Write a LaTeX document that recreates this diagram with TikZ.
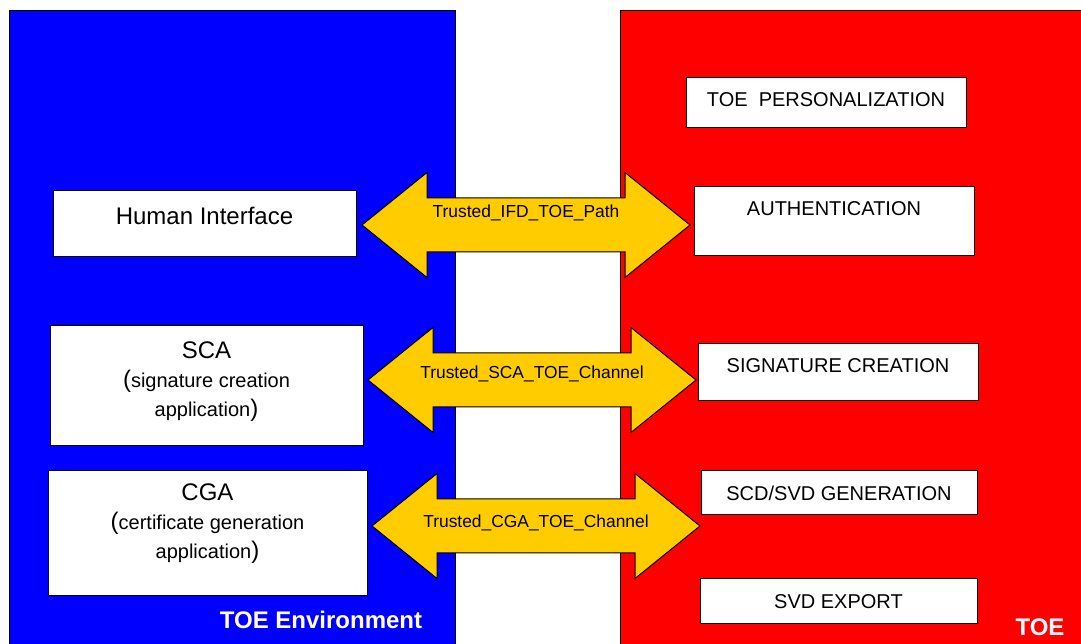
\documentclass[tikz,border=0pt]{standalone}
\usepackage{fontspec}
\setmainfont{Liberation Sans}

\definecolor{envblue}{RGB}{0,0,255}
\definecolor{toered}{RGB}{255,0,0}
\definecolor{chanyellow}{RGB}{255,204,0}

\begin{document}
\begin{tikzpicture}[x=1pt, y=1pt,
  box/.style={draw=black, fill=white, line width=1pt, align=center, inner sep=0pt, font=\fontsize{20}{29}\selectfont},
  chanarrow/.style={draw=black, fill=chanyellow, line width=1pt, line join=miter},
  chanlabel/.style={inner sep=0pt, text height=12pt, text depth=0pt, font=\fontsize{17.4}{20}\selectfont},
  area/.style={text=white, inner sep=0pt, font=\fontsize{24}{28}\selectfont\bfseries}]
  \useasboundingbox (0,0) rectangle (1081,644);
  \clip (0,0) rectangle (1081,644);

  % the two areas
  \draw[fill=envblue, line width=1pt] (9,633) rectangle (455,-16);
  \draw[fill=toered, line width=1pt] (620,633) rectangle (1100,-16);
  \node[area] (envlabel) at (321,24) {TOE Environment};
  \node[area] (toelabel) at (1040,17) {TOE};

  % environment side
  \node[box, font=\fontsize{24}{29}\selectfont, minimum width=303pt, minimum height=66pt, text depth=16pt] (hmi) at (204.5,420) {Human Interface};
  \node[box, minimum width=313pt, minimum height=120pt, text depth=14pt] (sca) at (206.5,258)
    {{\fontsize{24}{29}\selectfont SCA}\\{\fontsize{24}{29}\selectfont(}signature creation\\application{\fontsize{24}{29}\selectfont)}};
  \node[box, minimum width=319pt, minimum height=125pt, text depth=24pt] (cga) at (207.5,110.5)
    {{\fontsize{24}{29}\selectfont CGA}\\{\fontsize{24}{29}\selectfont(}certificate generation\\application{\fontsize{24}{29}\selectfont)}};

  % TOE side
  \node[box, minimum width=280pt, minimum height=50pt, text depth=6pt] (pers) at (826,541) {TOE\ \ PERSONALIZATION};
  \node[box, minimum width=280pt, minimum height=69pt, text depth=25pt] (auth) at (834,422.5) {AUTHENTICATION};
  \node[box, minimum width=280pt, minimum height=57pt, text depth=13pt] (sig) at (838,271.5) {SIGNATURE CREATION};
  \node[box, minimum width=276pt, minimum height=44pt] (gen) at (839,151) {SCD/SVD GENERATION};
  \node[box, minimum width=277pt, minimum height=45pt] (exp) at (838.5,42.5) {SVD EXPORT};

  % trusted channels
  \foreach \cx/\cy/\dy/\lab [count=\i] in {526/419/13/Trusted\_IFD\_TOE\_Path, 532/264/7/Trusted\_SCA\_TOE\_Channel, 536/118/4/Trusted\_CGA\_TOE\_Channel}{
    \draw[chanarrow, shift={(\cx,\cy)}] (-164,0) -- (-99,52.5) -- (-99,27) -- (99,27) -- (99,52.5) -- (164,0)
      -- (99,-52.5) -- (99,-27) -- (-99,-27) -- (-99,-52.5) -- cycle;
    \node[chanlabel] (chan\i) at (\cx,\cy+\dy) {\lab};
  }
\end{tikzpicture}
\end{document}
